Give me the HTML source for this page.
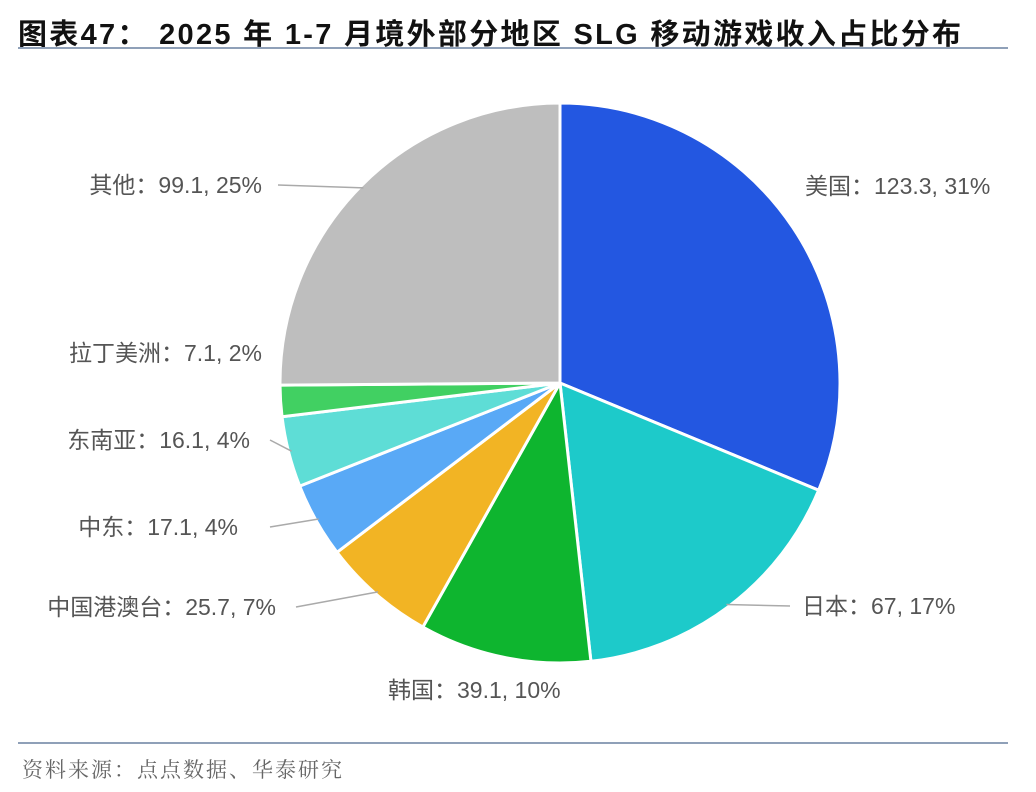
<!DOCTYPE html>
<html><head><meta charset="utf-8"><style>
body{margin:0;background:#fff;width:1036px;height:792px;overflow:hidden;font-family:"Liberation Sans","Noto Sans CJK SC",sans-serif;}
#title{position:absolute;left:18px;top:11px;font-size:29px;font-weight:bold;color:#111;white-space:nowrap;letter-spacing:2.3px;}
#src{position:absolute;left:22px;top:754px;font-size:21px;color:#666;font-family:"Noto Serif CJK SC","Liberation Serif",serif;letter-spacing:2px;}
.hr{position:absolute;left:18px;width:990px;height:2px;background:#8fa0b8;}
</style></head><body>
<div id="title">图表47： 2025 年 1-7 月境外部分地区 SLG 移动游戏收入占比分布</div>
<div class="hr" style="top:47px"></div>
<svg id="chart" width="1036" height="792" style="position:absolute;left:0;top:0"></svg>
<div class="hr" style="top:742px"></div>
<div id="src">资料来源：点点数据、华泰研究</div>
<script>
const categories=["美国","日本","韩国","中国港澳台","中东","东南亚","拉丁美洲","其他"];
const values=[123.3,67,39.1,25.7,17.1,16.1,7.1,99.1];
const percents=["31%","17%","10%","7%","4%","4%","2%","25%"];
const valueLabels=["123.3","67","39.1","25.7","17.1","16.1","7.1","99.1"];
const colors=["#2357E1","#1DCACA","#0EB52F","#F2B424","#59A9F6","#5EDDD6","#41D062","#BEBEBE"];
// label layout (positioning only): text anchor point, optional leader end
const layout=[
 {x:805,y:186,anchor:"start",line:false},
 {x:802,y:606,anchor:"start",line:true,lx:790,ly:606},
 {x:388,y:690,anchor:"start",line:false},
 {x:276,y:607,anchor:"end",line:true,lx:296,ly:607},
 {x:238,y:527,anchor:"end",line:true,lx:270,ly:527},
 {x:250,y:440,anchor:"end",line:true,lx:270,ly:440},
 {x:262,y:353,anchor:"end",line:false},
 {x:262,y:185,anchor:"end",line:true,lx:278,ly:185}];
const svg=document.getElementById('chart');
const NS="http://www.w3.org/2000/svg";
const cx=560,cy=383,R=280;
const total=values.reduce((a,b)=>a+b,0);
function pt(a,r){return [cx+r*Math.sin(a),cy-r*Math.cos(a)];}
let a0=0;
values.forEach((v,i)=>{
 const a1=a0+v/total*2*Math.PI;
 const p0=pt(a0,R),p1=pt(a1,R);
 const large=(a1-a0)>Math.PI?1:0;
 const path=document.createElementNS(NS,'path');
 path.setAttribute('d',`M${cx},${cy}L${p0[0]},${p0[1]}A${R},${R} 0 ${large} 1 ${p1[0]},${p1[1]}Z`);
 path.setAttribute('fill',colors[i]);path.setAttribute('stroke','#fff');path.setAttribute('stroke-width','3');
 
 
 svg.appendChild(path);
 const am=(a0+a1)/2;
 const L=layout[i];
 if(L.line){
  const e=pt(am,R-3);
  const line=document.createElementNS(NS,'polyline');
  line.setAttribute('points',`${e[0]},${e[1]} ${L.lx},${L.ly}`);
  line.setAttribute('fill','none');line.setAttribute('stroke','#aaa');line.setAttribute('stroke-width','1.5');
  
  
  svg.appendChild(line);
 }
 const t=document.createElementNS(NS,'text');
 t.setAttribute('x',L.x);t.setAttribute('y',L.y+8);t.setAttribute('text-anchor',L.anchor);
 t.setAttribute('font-size','23');t.setAttribute('fill','#555');
 t.setAttribute('font-family','"Liberation Sans","Noto Sans CJK SC",sans-serif');
 t.textContent=categories[i]+"："+valueLabels[i]+", "+percents[i];
 
 
 svg.appendChild(t);
 a0=a1;
});
</script>
</body></html>
